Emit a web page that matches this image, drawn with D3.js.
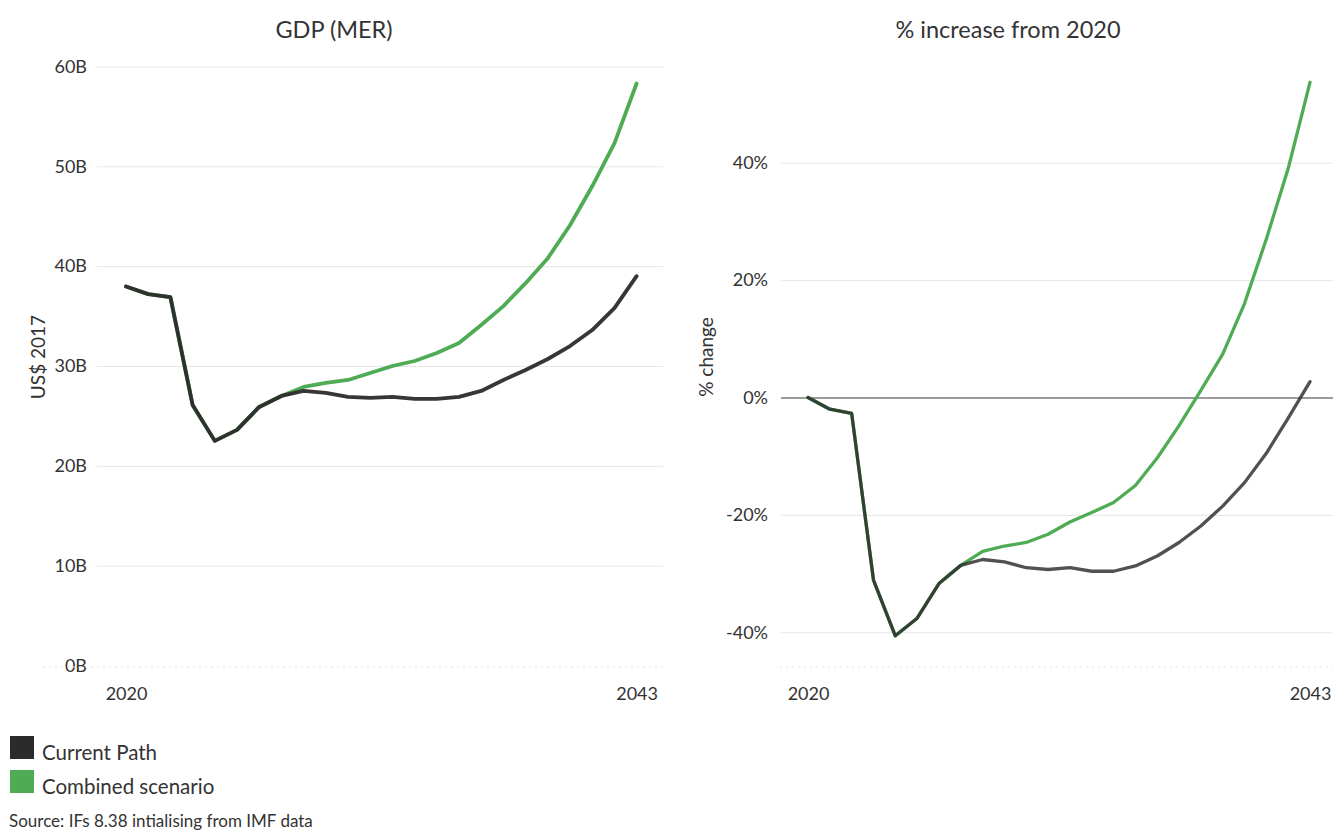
<!DOCTYPE html>
<html>
<head>
<meta charset="utf-8">
<script src="https://cdn.jsdelivr.net/npm/d3@7"></script>
<style>
  body { margin: 0; background: #fff; }
  svg { display: block; font-family: Lato, "Open Sans", sans-serif; }
</style>
</head>
<body>
<div id="chart"></div>
<script>

// data
var years = [2020, 2021, 2022, 2023, 2024, 2025, 2026, 2027, 2028, 2029, 2030, 2031,
  2032, 2033, 2034, 2035, 2036, 2037, 2038, 2039, 2040, 2041, 2042, 2043];

// GDP (MER), billions US$ 2017
var gdpCurrent = [37.96, 37.2, 36.9, 26.1, 22.5, 23.6, 25.9, 27.0, 27.5, 27.3, 26.9, 26.8,
  26.9, 26.7, 26.7, 26.9, 27.5, 28.6, 29.6, 30.7, 32.0, 33.6, 35.8, 39.0];
var gdpCombined = [37.96, 37.2, 36.9, 26.1, 22.5, 23.6, 25.9, 27.0, 27.9, 28.3, 28.6, 29.3,
  30.0, 30.5, 31.3, 32.3, 34.1, 36.0, 38.3, 40.8, 44.1, 48.0, 52.3, 58.3];

// % increase from 2020
var pctCurrent = [0, -2.0, -2.7, -31.1, -40.6, -37.6, -31.7, -28.6, -27.6, -28.0, -29.0, -29.3,
  -29.0, -29.6, -29.6, -28.7, -27.0, -24.7, -21.9, -18.5, -14.5, -9.5, -3.5, 2.7];
var pctCombined = [0, -2.0, -2.7, -31.1, -40.6, -37.6, -31.7, -28.6, -26.2, -25.3, -24.7, -23.3,
  -21.2, -19.6, -17.9, -15.0, -10.3, -4.8, 1.2, 7.4, 16.0, 27.0, 39.0, 53.7];

var gdpTicks = [0, 10, 20, 30, 40, 50, 60];
var pctTicks = [-40, -20, 0, 20, 40];
var yearTicks = [2020, 2043];

var seriesNames = ["Current Path", "Combined scenario"];
var seriesColors = ["#2b2b2b", "#4fac54"];

var svgWidth = 1333;
var svgHeight = 833;

var svg = d3.select("#chart")
  .append("svg")
  .attr("width", svgWidth)
  .attr("height", svgHeight);

// one panel = title + gridlines + two lines
function drawPanel(opt) {
  var x = d3.scaleLinear().domain([2020, 2043]).range(opt.xRange);
  var y = d3.scaleLinear().domain(opt.yDomain).range(opt.yRange);

  var g = svg.append("g");

  // gridlines + labels
  var leftAxis = d3.axisLeft(y)
    .tickValues(opt.ticks)
    .tickFormat(opt.format)
    .tickSize(-(opt.gridRight - opt.gridLeft))
    .tickPadding(opt.gridLeft - opt.labelRight);

  var ya = g.append("g")
    .attr("transform", `translate(${opt.gridLeft},0)`)
    .call(leftAxis);
  ya.select(".domain").remove();
  ya.selectAll("line")
    .attr("stroke", d => (opt.zeroLine && d === 0) ? "#7a7a7a" : "#e6e6e6")
    .attr("stroke-width", d => (opt.zeroLine && d === 0) ? 1.5 : 1)
    .attr("stroke-opacity", d => (opt.hideFirst && d === opt.ticks[0]) ? 0 : 1);
  ya.selectAll("text")
    .attr("fill", "#333")
    .style("font-size", "18px")
    .style("font-family", "Lato, sans-serif");

  // faint dotted baseline
  g.append("line")
    .attr("x1", opt.baseLeft).attr("x2", opt.gridRight)
    .attr("y1", 667).attr("y2", 667)
    .attr("stroke", "#e3e3e3")
    .attr("stroke-dasharray", "2,4");

  // years
  var bottomAxis = d3.axisBottom(x)
    .tickValues(yearTicks)
    .tickFormat(d3.format("d"))
    .tickSize(0)
    .tickPadding(0);
  var xa = g.append("g")
    .attr("transform", `translate(0, 700)`)
    .call(bottomAxis);
  xa.select(".domain").remove();
  xa.selectAll("text")
    .attr("dy", 0)
    .attr("fill", "#333")
    .style("font-size", "18px")
    .style("font-family", "Lato, sans-serif");

  // title
  g.append("text")
    .attr("x", opt.titleX)
    .attr("y", 38)
    .attr("text-anchor", "middle")
    .attr("fill", "#333")
    .style("font-size", "23.5px")
    .text(opt.title);

  // axis title
  g.append("text")
    .attr("transform", `translate(${opt.axisTitleX}, 357) rotate(-90)`)
    .attr("text-anchor", "middle")
    .attr("fill", "#333")
    .style("font-size", "19px")
    .text(opt.axisTitle);

  var line = d3.line()
    .x((d, i) => x(years[i]))
    .y(d => y(d));

  g.append("path")
    .datum(opt.combined)
    .attr("d", line)
    .attr("fill", "none")
    .attr("stroke", seriesColors[1])
    .attr("stroke-width", opt.width)
    .attr("stroke-linejoin", "round")
    .attr("stroke-linecap", "round");

  g.append("path")
    .datum(opt.current)
    .attr("d", line)
    .attr("fill", "none")
    .attr("stroke", seriesColors[0])
    .attr("stroke-opacity", opt.blackOpacity)
    .attr("stroke-width", opt.width)
    .attr("stroke-linejoin", "round")
    .attr("stroke-linecap", "round");
}

drawPanel({
  title: "GDP (MER)",
  titleX: 334,
  axisTitle: "US$ 2017",
  axisTitleX: 45,
  xRange: [126, 636.6],
  yDomain: [0, 60],
  yRange: [665.5, 66.5],
  ticks: gdpTicks,
  format: d => d + "B",
  gridLeft: 97,
  gridRight: 663,
  labelRight: 87,
  baseLeft: 43,
  hideFirst: true,
  zeroLine: false,
  current: gdpCurrent,
  combined: gdpCombined,
  width: 3.8,
  blackOpacity: 0.95
});

drawPanel({
  title: "% increase from 2020",
  titleX: 1008,
  axisTitle: "% change",
  axisTitleX: 713,
  xRange: [808, 1310],
  yDomain: [-40, 40],
  yRange: [632.3, 162.7],
  ticks: pctTicks,
  format: d => d + "%",
  gridLeft: 781,
  gridRight: 1333,
  labelRight: 768,
  baseLeft: 780,
  hideFirst: false,
  zeroLine: true,
  current: pctCurrent,
  combined: pctCombined,
  width: 3.3,
  blackOpacity: 0.82
});

// legend
var legend = svg.append("g");
seriesNames.forEach(function(name, i) {
  legend.append("rect")
    .attr("x", 10)
    .attr("y", 736 + i * 34)
    .attr("width", 24)
    .attr("height", 23)
    .attr("fill", seriesColors[i]);
  legend.append("text")
    .attr("x", 42)
    .attr("y", 760 + i * 34)
    .attr("fill", "#333")
    .style("font-size", "20.5px")
    .text(name);
});

svg.append("text")
  .attr("x", 9)
  .attr("y", 827)
  .attr("fill", "#333")
  .style("font-size", "17px")
  .text("Source: IFs 8.38 intialising from IMF data");

</script>
</body>
</html>
